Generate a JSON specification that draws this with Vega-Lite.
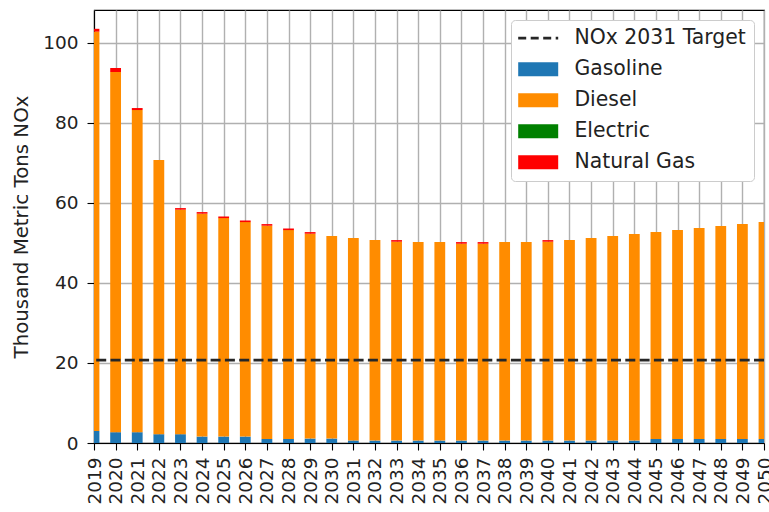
{
  "$schema": "https://vega.github.io/schema/vega-lite/v6.json",
  "width": 670,
  "height": 433,
  "autosize": "none",
  "padding": {"left": 94, "top": 10, "right": 5, "bottom": 69},
  "background": "white",
  "datasets": {
    "emissions": [
      {"year": 2019, "Gasoline": 3.0, "Diesel": 99.8, "Electric": 0, "Natural Gas": 0.7},
      {"year": 2020, "Gasoline": 2.7, "Diesel": 90.0, "Electric": 0, "Natural Gas": 1.0},
      {"year": 2021, "Gasoline": 2.7, "Diesel": 80.5, "Electric": 0, "Natural Gas": 0.5},
      {"year": 2022, "Gasoline": 2.2, "Diesel": 68.5, "Electric": 0, "Natural Gas": 0},
      {"year": 2023, "Gasoline": 2.2, "Diesel": 56.1, "Electric": 0, "Natural Gas": 0.4},
      {"year": 2024, "Gasoline": 1.6, "Diesel": 55.7, "Electric": 0, "Natural Gas": 0.4},
      {"year": 2025, "Gasoline": 1.6, "Diesel": 54.6, "Electric": 0, "Natural Gas": 0.4},
      {"year": 2026, "Gasoline": 1.6, "Diesel": 53.6, "Electric": 0, "Natural Gas": 0.4},
      {"year": 2027, "Gasoline": 1.0, "Diesel": 53.3, "Electric": 0, "Natural Gas": 0.4},
      {"year": 2028, "Gasoline": 1.0, "Diesel": 52.2, "Electric": 0, "Natural Gas": 0.4},
      {"year": 2029, "Gasoline": 1.1, "Diesel": 51.2, "Electric": 0, "Natural Gas": 0.4},
      {"year": 2030, "Gasoline": 1.1, "Diesel": 50.6, "Electric": 0, "Natural Gas": 0},
      {"year": 2031, "Gasoline": 0.6, "Diesel": 50.6, "Electric": 0, "Natural Gas": 0},
      {"year": 2032, "Gasoline": 0.6, "Diesel": 50.1, "Electric": 0, "Natural Gas": 0},
      {"year": 2033, "Gasoline": 0.6, "Diesel": 49.7, "Electric": 0, "Natural Gas": 0.4},
      {"year": 2034, "Gasoline": 0.6, "Diesel": 49.6, "Electric": 0, "Natural Gas": 0},
      {"year": 2035, "Gasoline": 0.6, "Diesel": 49.6, "Electric": 0, "Natural Gas": 0},
      {"year": 2036, "Gasoline": 0.6, "Diesel": 49.2, "Electric": 0, "Natural Gas": 0.4},
      {"year": 2037, "Gasoline": 0.6, "Diesel": 49.2, "Electric": 0, "Natural Gas": 0.4},
      {"year": 2038, "Gasoline": 0.6, "Diesel": 49.6, "Electric": 0, "Natural Gas": 0},
      {"year": 2039, "Gasoline": 0.6, "Diesel": 49.6, "Electric": 0, "Natural Gas": 0},
      {"year": 2040, "Gasoline": 0.6, "Diesel": 49.7, "Electric": 0, "Natural Gas": 0.4},
      {"year": 2041, "Gasoline": 0.6, "Diesel": 50.1, "Electric": 0, "Natural Gas": 0},
      {"year": 2042, "Gasoline": 0.6, "Diesel": 50.6, "Electric": 0, "Natural Gas": 0},
      {"year": 2043, "Gasoline": 0.6, "Diesel": 51.1, "Electric": 0, "Natural Gas": 0},
      {"year": 2044, "Gasoline": 0.6, "Diesel": 51.6, "Electric": 0, "Natural Gas": 0},
      {"year": 2045, "Gasoline": 1.0, "Diesel": 51.7, "Electric": 0, "Natural Gas": 0},
      {"year": 2046, "Gasoline": 1.0, "Diesel": 52.2, "Electric": 0, "Natural Gas": 0},
      {"year": 2047, "Gasoline": 1.0, "Diesel": 52.7, "Electric": 0, "Natural Gas": 0},
      {"year": 2048, "Gasoline": 1.0, "Diesel": 53.2, "Electric": 0, "Natural Gas": 0},
      {"year": 2049, "Gasoline": 1.0, "Diesel": 53.7, "Electric": 0, "Natural Gas": 0},
      {"year": 2050, "Gasoline": 1.0, "Diesel": 54.2, "Electric": 0, "Natural Gas": 0}
    ],
    "stackOrder": [
      {"fuel": "Gasoline", "k": 1},
      {"fuel": "Diesel", "k": 2},
      {"fuel": "Electric", "k": 3},
      {"fuel": "Natural Gas", "k": 4}
    ],
    "target": [{"series": "NOx 2031 Target", "value": 20.7}]
  },
  "layer": [
    {
      "data": {"name": "emissions"},
      "transform": [
        {"fold": ["Gasoline", "Diesel", "Electric", "Natural Gas"], "as": ["fuel", "nox"]},
        {"lookup": "fuel", "from": {"data": {"name": "stackOrder"}, "key": "fuel", "fields": ["k"]}}
      ],
      "mark": {"type": "bar", "size": 10.8, "clip": true},
      "encoding": {
        "x": {
          "field": "year",
          "type": "quantitative",
          "scale": {"domain": [2019, 2050], "nice": false, "zero": false, "padding": 0},
          "axis": {
            "title": null,
            "values": [2019, 2020, 2021, 2022, 2023, 2024, 2025, 2026, 2027, 2028, 2029, 2030, 2031, 2032, 2033, 2034, 2035, 2036, 2037, 2038, 2039, 2040, 2041, 2042, 2043, 2044, 2045, 2046, 2047, 2048, 2049, 2050],
            "format": "d",
            "labelAngle": 270,
            "labelFlush": false,
            "labelOverlap": false,
            "labelPadding": 7
          }
        },
        "y": {
          "field": "nox",
          "type": "quantitative",
          "stack": "zero",
          "scale": {"domain": [0, 108.2], "nice": false},
          "axis": {
            "title": "Thousand Metric Tons NOx",
            "values": [0, 20, 40, 60, 80, 100],
            "labelPadding": 9,
            "titlePadding": 11
          }
        },
        "color": {
          "field": "fuel",
          "type": "nominal",
          "scale": {
            "domain": ["NOx 2031 Target", "Gasoline", "Diesel", "Electric", "Natural Gas"],
            "range": ["#262626", "#1f77b4", "#ff8c00", "#008000", "#ff0000"]
          },
          "legend": {
            "title": null,
            "orient": "top-right",
            "offset": 10,
            "fillColor": "white",
            "strokeColor": "#cccccc",
            "cornerRadius": 4,
            "padding": 8,
            "labelFontSize": 20.4,
            "labelLimit": 400,
            "labelColor": "#222222",
            "labelOffset": 26,
            "symbolOffset": 9,
            "rowPadding": 10,
            "symbolSize": 1600,
            "encode": {
              "symbols": {
                "update": {
                  "shape": {"signal": "datum.value === 'NOx 2031 Target' ? 'M-1,0H1' : 'M-1,-0.35H1V0.35H-1Z'"},
                  "fill": {"signal": "datum.value === 'NOx 2031 Target' ? 'transparent' : scale('color', datum.value)"},
                  "stroke": {"signal": "datum.value === 'NOx 2031 Target' ? '#262626' : 'transparent'"},
                  "strokeDash": {"signal": "datum.value === 'NOx 2031 Target' ? [8, 4.5] : [1, 0]"},
                  "strokeWidth": {"signal": "datum.value === 'NOx 2031 Target' ? 2.7 : 0"},
                  "opacity": {"value": 1}
                }
              }
            }
          }
        },
        "order": {"field": "k", "type": "quantitative"}
      }
    },
    {
      "data": {"name": "target"},
      "mark": {"type": "rule", "strokeDash": [10, 4.3], "strokeWidth": 2.7},
      "encoding": {
        "y": {"field": "value", "type": "quantitative"},
        "color": {"field": "series", "type": "nominal"}
      }
    }
  ],
  "config": {
    "font": "DejaVu Sans",
    "view": {"stroke": "black", "strokeWidth": 1.1},
    "axis": {
      "domainColor": "black",
      "domainWidth": 1.1,
      "tickColor": "black",
      "tickWidth": 1.1,
      "tickSize": 7,
      "labelFontSize": 18.5,
      "labelColor": "#222222",
      "titleFontSize": 19.8,
      "titleFontWeight": "normal",
      "titleColor": "#222222",
      "grid": true,
      "gridColor": "#b0b0b0",
      "gridWidth": 1.4
    }
  }
}
